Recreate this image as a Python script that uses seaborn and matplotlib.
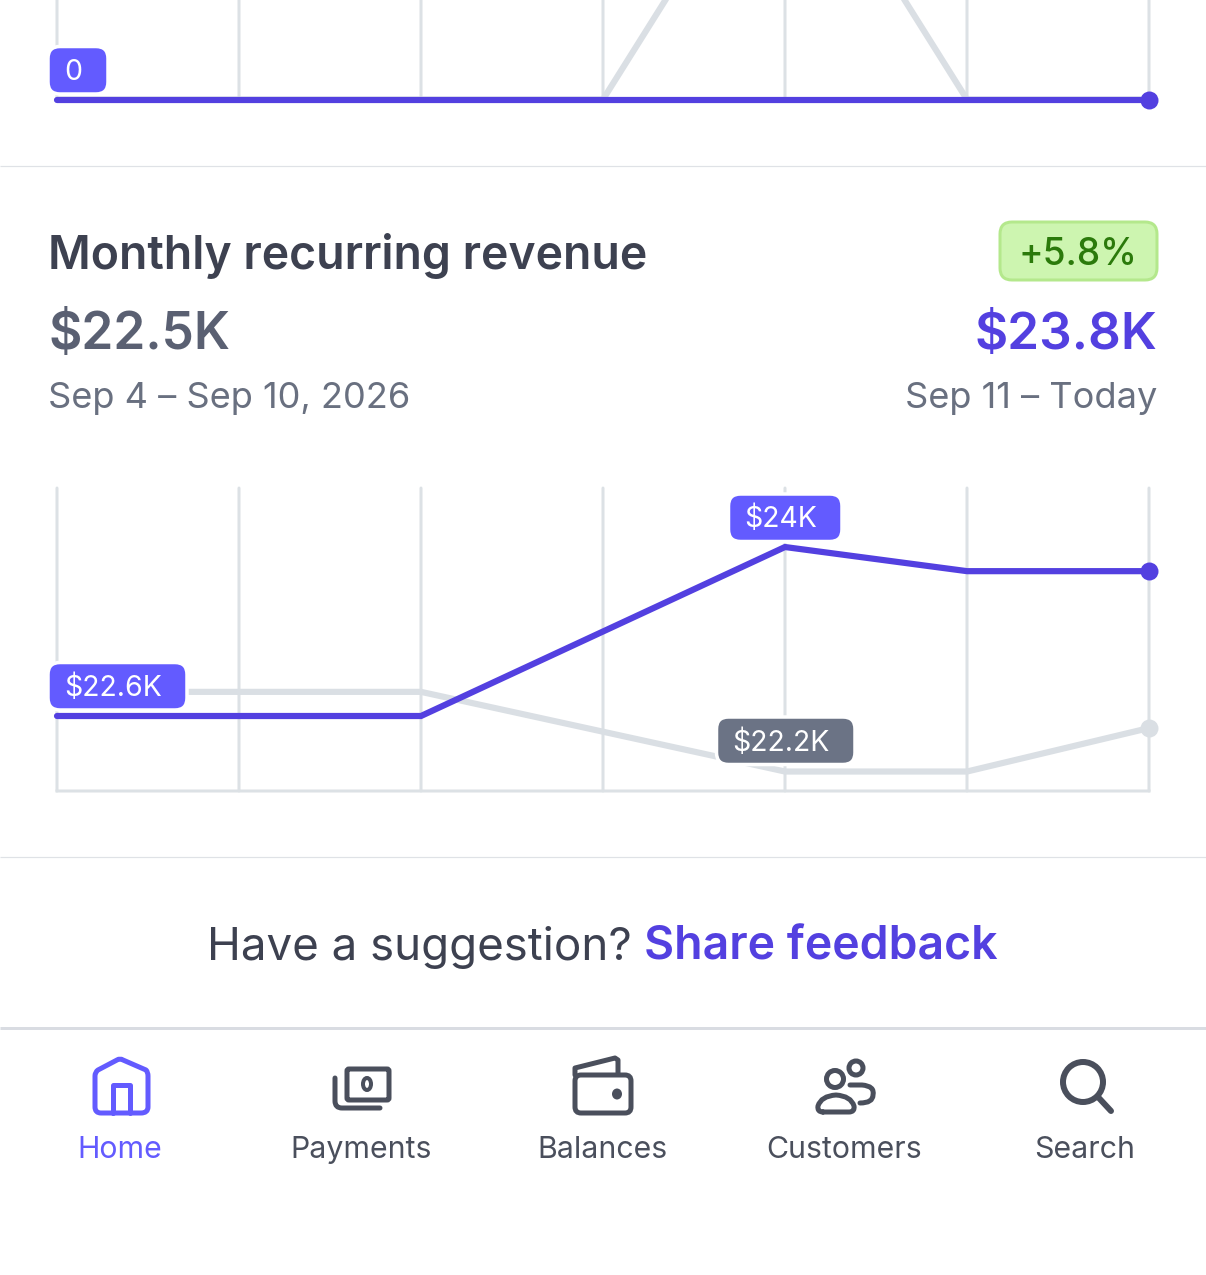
import numpy as np
import pandas as pd
import seaborn as sns
import matplotlib
matplotlib.use("Agg")
import matplotlib.pyplot as plt
from matplotlib.patches import FancyBboxPatch, Circle, Ellipse, PathPatch
from matplotlib.path import Path

# ---------- data ----------
points = [0, 1, 2, 3, 4, 5, 6]
mrr_current = [22.6, 22.6, 22.6, 23.3, 24.0, 23.8, 23.8]
mrr_previous = [22.8, 22.8, 22.8, 22.47, 22.14, 22.14, 22.5]
top_current = [0, 0, 0, 0, 0, 0, 0]
top_previous = [0, 0, 0, 0, 3, 0, 0]
nav_labels = ["Home", "Payments", "Balances", "Customers", "Search"]

PURPLE = "#5340E0"
BADGE = "#635BFF"
GREY_LINE = "#DADFE4"
GRID = "#DCE1E5"
DARK = "#3D4150"
MID = "#5A6072"
SOFT = "#697080"
ICON = "#4A4F5C"

sns.set_theme(style="white")
plt.rcParams["font.family"] = ["Inter", "DejaVu Sans"]

W, H = 1206, 1275
fig = plt.figure(figsize=(W / 100, H / 100), dpi=100, facecolor="white")
px = lambda p: p * 0.72


def axes_px(left, right, top, bottom):
    return fig.add_axes([left / W, 1 - bottom / H, (right - left) / W, (bottom - top) / H])


def style_chart(ax, ylim, baseline):
    ax.set_xlim(0, 6)
    ax.set_ylim(*ylim)
    ax.set_xticks(points)
    ax.set_yticks([])
    ax.set_xlabel("")
    ax.set_ylabel("")
    ax.tick_params(length=0, labelbottom=False, labelleft=False)
    ax.set_facecolor("none")
    ax.grid(False)
    ax.xaxis.grid(True, color=GRID, lw=px(3))
    ax.set_axisbelow(True)
    for gl in ax.get_xgridlines():
        gl.set_clip_on(False)
        gl.set_snap(False)
    for s in ax.spines.values():
        s.set_visible(False)
    if baseline:
        ax.spines["bottom"].set_visible(True)
        ax.spines["bottom"].set_color(GRID)
        ax.spines["bottom"].set_linewidth(px(3))
        ax.spines["bottom"].set_snap(False)


def draw_series(ax, y, color, end_marker=True, clip=False):
    df = pd.DataFrame({"x": points, "y": y})
    sns.lineplot(data=df, x="x", y="y", ax=ax, color=color, lw=px(6.2),
                 solid_joinstyle="miter", solid_capstyle="round", clip_on=clip,
                 errorbar=None, legend=False)
    if end_marker:
        sns.scatterplot(data=df.iloc[[-1]], x="x", y="y", ax=ax, color=color, s=px(18) ** 2,
                        linewidth=0, clip_on=False, legend=False, zorder=5)


# ---------- top (cut off) chart ----------
ax1 = axes_px(57, 1149, 0, 99.5)
draw_series(ax1, top_previous, GREY_LINE, end_marker=False, clip=True)
draw_series(ax1, top_current, PURPLE)
style_chart(ax1, (0, 3 * 99.5 / 290), False)

# ---------- monthly recurring revenue chart ----------
ax2 = axes_px(57, 1149, 488, 791)
draw_series(ax2, mrr_previous, GREY_LINE)
draw_series(ax2, mrr_current, PURPLE)
style_chart(ax2, (22.6 - 75 / 120.7, 22.6 + 228 / 120.7), True)

# ---------- pixel overlay for interface parts ----------
ui = fig.add_axes([0, 0, 1, 1], zorder=10)
ui.set_xlim(0, W)
ui.set_ylim(H, 0)
ui.axis("off")
ui.patch.set_alpha(0)


def rule(y, lw=1.2, color="#DFE2E6"):
    ui.plot([0, W], [y, y], color=color, lw=px(lw), solid_capstyle="butt")


rule(166)
rule(857)
rule(1027.5, lw=3, color="#D9DCE2")


def badge(x0, x1, y0, y1, text, face, edge="white", elw=3.5, fs=28.4, color="white", weight="normal", dx=-4, dy=-1, r=12):
    ui.add_patch(FancyBboxPatch((x0 + r, y0 + r), x1 - x0 - 2 * r, y1 - y0 - 2 * r,
                                boxstyle=f"round,pad={r},rounding_size={r}", fc=face, ec=edge, lw=px(elw), zorder=6))
    ui.text((x0 + x1) / 2 + dx, (y0 + y1) / 2 + dy, text, ha="center", va="center_baseline",
            color=color, fontsize=px(fs), fontweight=weight, zorder=7)


badge(48, 108, 46.5, 94, "0", BADGE, dx=-5)
badge(48, 187, 662.5, 710, "$22.6K", BADGE)
badge(728.5, 842, 494, 541.5, "$24K", BADGE, dx=-4.5)
badge(716.5, 855, 717, 764.5, "$22.2K", "#6B7385", dx=-4.5)
badge(1000, 1157, 222, 280, "+5.8%", "#CDF5B0", edge="#B4E88C", elw=3, fs=37, color="#2B7A0B", weight=500, dx=-0.5, dy=0, r=12)

# ---------- text ----------
ui.text(48.5, 251, "Monthly recurring revenue", fontsize=px(46.4), fontweight=600, color=DARK, va="center_baseline")
ui.text(48.5, 330, "$22.5K", fontsize=px(51.4), fontweight=600, color=MID, va="center_baseline")
ui.text(1157.5, 330, "$23.8K", fontsize=px(51.2), fontweight=600, color=PURPLE, va="center_baseline", ha="right")
ui.text(48.5, 395, "Sep 4 – Sep 10, 2026", fontsize=px(36.2), color=SOFT, va="center_baseline")
ui.text(1157, 395, "Sep 11 – Today", fontsize=px(36.2), color=SOFT, va="center_baseline", ha="right")
ui.text(207, 943, "Have a suggestion?", fontsize=px(45.7), color=DARK, va="center_baseline")
ui.text(644.5, 943, "Share feedback", fontsize=px(46.4), fontweight=600, color=PURPLE, va="center_baseline")

nav_x = [120, 361, 602, 844, 1085]
for x, label, c in zip(nav_x, nav_labels, [BADGE] + [ICON] * 4):
    ui.text(x, 1146.5, label, fontsize=px(30.3), color=c, ha="center", va="center_baseline")


# ---------- icons ----------
SW = 5


def stroke(pts, color=ICON, lw=SW):
    xs, ys = zip(*pts)
    ui.plot(xs, ys, color=color, lw=px(lw), solid_capstyle="round", solid_joinstyle="round")


def rbox(x0, y0, x1, y1, r, color=ICON, lw=SW):
    ui.add_patch(FancyBboxPatch((x0 + r, y0 + r), x1 - x0 - 2 * r, y1 - y0 - 2 * r,
                                boxstyle=f"round,pad={r},rounding_size={r}", fc="none", ec=color, lw=px(lw)))


def curve(verts, codes, color=ICON, lw=SW):
    ui.add_patch(PathPatch(Path(verts, codes), fc="none", ec=color, lw=px(lw), capstyle="round", joinstyle="round"))


M, L, C = Path.MOVETO, Path.LINETO, Path.CURVE3
# home
curve([(113, 1113), (101, 1113), (95, 1113), (95, 1107), (95, 1076), (95, 1072), (98, 1070),
       (117, 1060), (120, 1058), (123, 1060), (146, 1070), (148, 1072), (148, 1076), (148, 1107),
       (148, 1113), (141, 1113), (113, 1113)],
      [M, L, C, C, L, C, C, L, C, C, L, C, C, L, C, C, L], color=BADGE)
stroke([(113, 1113), (113, 1085), (130, 1085), (130, 1113)], color=BADGE)
# payments
rbox(347, 1069, 389, 1100, 2)
ui.add_patch(Ellipse((367, 1084), 8, 12, fc="none", ec=ICON, lw=px(4)))
curve([(335, 1078), (335, 1101), (335, 1108), (342, 1108), (380, 1108)], [M, L, C, C, L])
# balances
rbox(575, 1075, 631, 1113, 6)
stroke([(575, 1075), (575, 1068), (615, 1058), (618, 1060), (618, 1074)])
ui.add_patch(Ellipse((617, 1094), 10, 11, fc=ICON, ec="none"))
# customers
ui.add_patch(Circle((835, 1079), 8.5, fc="none", ec=ICON, lw=px(SW)))
ui.add_patch(Circle((856, 1068), 7, fc="none", ec=ICON, lw=px(SW)))
curve([(823, 1112), (817, 1112), (818, 1106), (821, 1096), (836, 1095), (851, 1096), (854, 1106),
       (855, 1112), (849, 1112), (823, 1112)],
      [M, C, C, C, C, C, C, C, C, L])
curve([(850, 1085), (862, 1085), (875, 1086), (873, 1095), (873, 1103), (860, 1103)],
      [M, L, C, C, C, C])
# search
ui.add_patch(Circle((1083, 1082), 20, fc="none", ec=ICON, lw=px(6)))
stroke([(1098, 1097), (1111, 1111)], lw=6)

fig.savefig("out.png", dpi=100, facecolor="white")
